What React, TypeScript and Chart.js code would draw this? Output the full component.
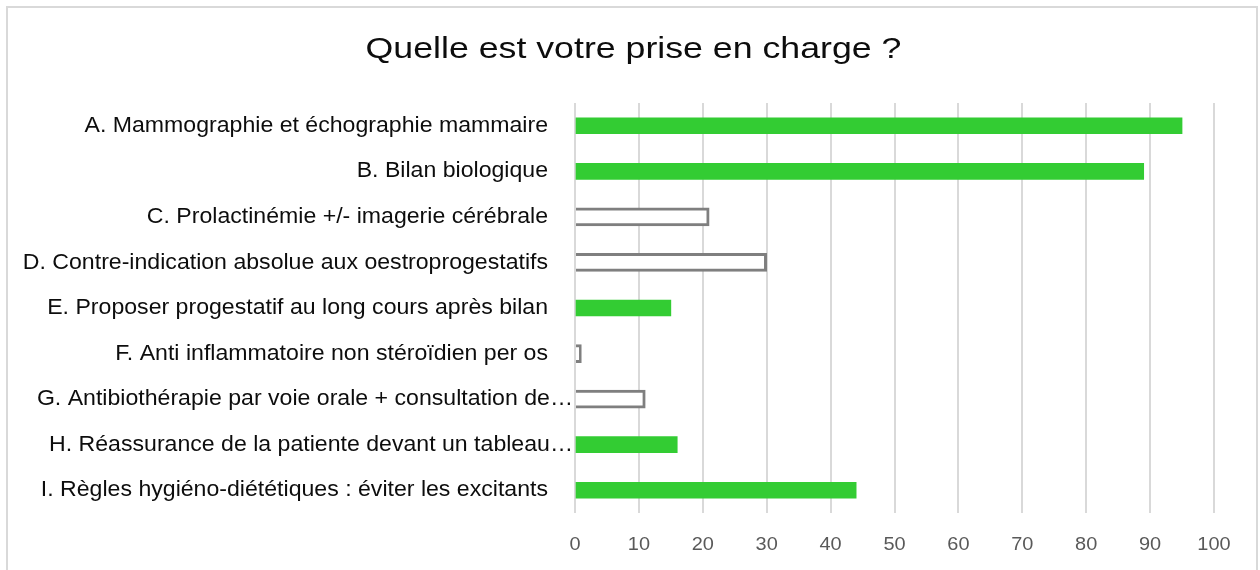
import React, { useEffect, useRef } from "react";
import { Chart, registerables } from "chart.js";

Chart.register(...registerables);

const chartTitle = "Quelle est votre prise en charge ?";
const categories = [
  "A. Mammographie et échographie mammaire",
  "B. Bilan biologique",
  "C. Prolactinémie +/- imagerie cérébrale",
  "D. Contre-indication absolue aux oestroprogestatifs",
  "E. Proposer progestatif au long cours après bilan",
  "F. Anti inflammatoire non stéroïdien per os",
  "G. Antibiothérapie par voie orale + consultation de…",
  "H. Réassurance de la patiente devant un tableau…",
  "I. Règles hygiéno-diététiques : éviter les excitants",
];
const values = [95, 89, 21, 30, 15, 1, 11, 16, 44];
const correct = [true, true, false, false, true, false, false, true, true];
const xMin = 0;
const xMax = 100;
const xStep = 10;

const GREEN = "#33cc33";
const OUTLINE = "#7f7f7f";
const GRID = "#d9d9d9";
const FONT = "'Liberation Sans', Arial, sans-serif";

const TITLE_SIZE = 30;
const LABEL_SIZE = 22;
const TICK_SIZE = 19;
const LABEL_PAD = 27;
// horizontal stretch of glyphs (the reference text is slightly widened)
const STRETCH: Record<number, number> = { 30: 1.19, 22: 1.05, 19: 1.05 };

const stretchTextPlugin = {
  id: "stretchText",
  beforeDraw(chart: any) {
    const ctx = chart.ctx as any;
    if (ctx.__stretchPatched) return;
    ctx.__stretchPatched = true;
    const orig = ctx.fillText.bind(ctx);
    ctx.fillText = function (text: string, x: number, y: number, maxWidth?: number) {
      const m = /(\d+(?:\.\d+)?)px/.exec(ctx.font);
      const size = m ? parseFloat(m[1]) : 0;
      const sx = STRETCH[size] ?? 1;
      let ax = x;
      // truncated labels run up to the axis, as in the original spreadsheet chart
      if (size === LABEL_SIZE && ctx.textAlign === "right" && String(text).endsWith("…")) {
        ax = x + LABEL_PAD - 2;
      }
      ctx.save();
      ctx.translate(ax, y);
      ctx.scale(sx, 1);
      if (maxWidth === undefined) orig(text, 0, 0);
      else orig(text, 0, 0, maxWidth / sx);
      ctx.restore();
    };
  },
};

export default function App() {
  const canvasRef = useRef<HTMLCanvasElement | null>(null);

  useEffect(() => {
    if (!canvasRef.current) return;
    const greenData = values.map((v, i) => (correct[i] ? v : null));
    const outlineData = values.map((v, i) => (correct[i] ? null : v));
    const chart = new Chart(canvasRef.current, {
      type: "bar",
      data: {
        labels: categories,
        datasets: [
          {
            label: "Bonne réponse",
            data: greenData,
            backgroundColor: GREEN,
            borderWidth: 0,
            barThickness: 16,
            grouped: false,
          },
          {
            label: "Mauvaise réponse",
            data: outlineData,
            backgroundColor: "#ffffff",
            borderColor: OUTLINE,
            borderWidth: 3,
            borderSkipped: "start",
            barThickness: 18,
            grouped: false,
          },
        ] as any,
      },
      plugins: [stretchTextPlugin],
      options: {
        indexAxis: "y",
        responsive: false,
        animation: false,
        devicePixelRatio: 1,
        layout: { padding: { left: 0, right: 13, top: 0, bottom: 0 } },
        plugins: {
          legend: { display: false },
          tooltip: { enabled: false },
          title: {
            display: true,
            text: chartTitle,
            color: "#0d0d0d",
            font: { family: FONT, size: TITLE_SIZE, weight: "normal" },
            padding: { top: 32, bottom: 35 },
          },
        },
        scales: {
          x: {
            min: xMin,
            max: xMax,
            grid: { color: GRID, lineWidth: 2, drawTicks: false },
            border: { display: false },
            ticks: {
              stepSize: xStep,
              color: "#595959",
              padding: 20,
              font: { family: FONT, size: TICK_SIZE },
            },
            afterFit: (s: any) => {
              s.height = 57;
            },
          },
          y: {
            grid: { display: false, drawTicks: false },
            border: { display: false },
            ticks: {
              color: "#0d0d0d",
              padding: LABEL_PAD,
              autoSkip: false,
              font: { family: FONT, size: LABEL_SIZE },
            },
            afterFit: (s: any) => {
              s.width = 575;
            },
          },
          yRight: {
            type: "category",
            position: "right",
            grid: { display: false, drawTicks: false },
            border: { display: false },
            ticks: { display: false },
            afterFit: (s: any) => {
              s.width = 53;
            },
          },
        } as any,
      },
    });
    return () => chart.destroy();
  }, []);

  return (
    <div
      style={{
        position: "absolute",
        left: 0,
        top: 0,
        width: 1260,
        height: 570,
        overflow: "hidden",
        background: "#ffffff",
      }}
    >
      <div
        style={{
          position: "absolute",
          left: 6,
          top: 6,
          width: 1252,
          height: 620,
          border: "2px solid #d9d9d9",
          boxSizing: "border-box",
        }}
      />
      <canvas
        ref={canvasRef}
        width={1280}
        height={570}
        style={{ position: "absolute", left: 0, top: 0, width: 1280, height: 570 }}
      />
    </div>
  );
}
